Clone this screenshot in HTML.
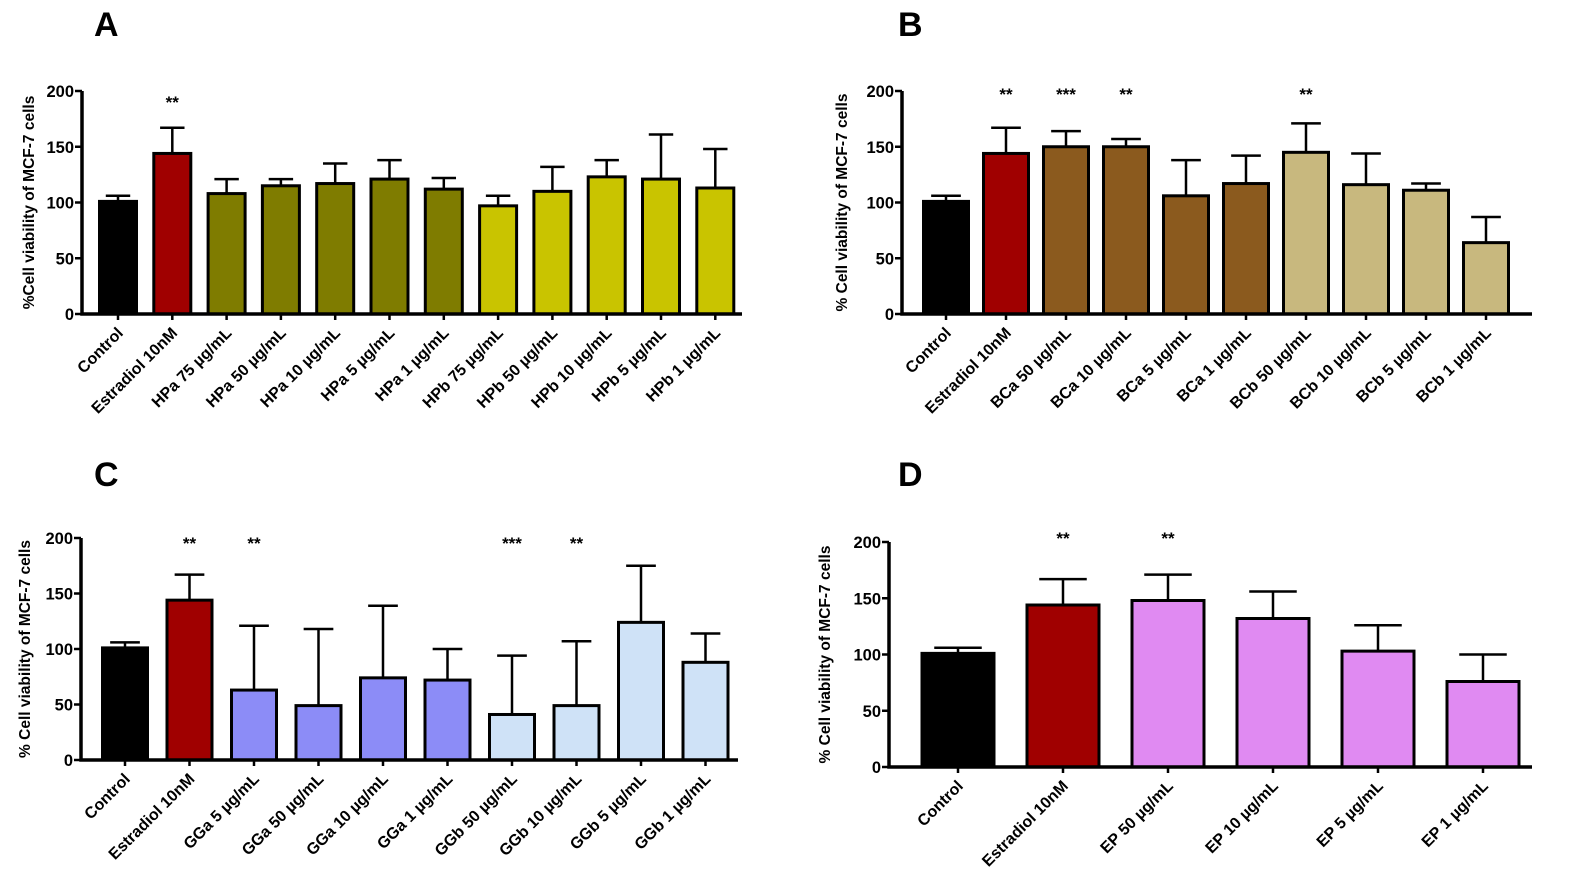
<!DOCTYPE html>
<html><head><meta charset="utf-8"><style>
body{margin:0;background:#fff;}
svg{display:block;font-family:"Liberation Sans",Arial,sans-serif;font-weight:bold;}
</style></head><body>
<svg id="c" width="1584" height="894"></svg>
<script>
const catsA=["Control","Estradiol 10nM","HPa 75 µg/mL","HPa 50 µg/mL","HPa 10 µg/mL","HPa 5 µg/mL","HPa 1 µg/mL","HPb 75 µg/mL","HPb 50 µg/mL","HPb 10 µg/mL","HPb 5 µg/mL","HPb 1 µg/mL"];
const valsA=[101,144,108,115,117,121,112,97,110,123,121,113];
const errA=[5,23,13,6,18,17,10,9,22,15,40,35];
const starsA=["","**","","","","","","","","","",""];
const catsB=["Control","Estradiol 10nM","BCa 50 µg/mL","BCa 10 µg/mL","BCa 5 µg/mL","BCa 1 µg/mL","BCb 50 µg/mL","BCb 10 µg/mL","BCb 5 µg/mL","BCb 1 µg/mL"];
const valsB=[101,144,150,150,106,117,145,116,111,64];
const errB=[5,23,14,7,32,25,26,28,6,23];
const starsB=["","**","***","**","","","**","","",""];
const catsC=["Control","Estradiol 10nM","GGa 5 µg/mL","GGa 50 µg/mL","GGa 10 µg/mL","GGa 1 µg/mL","GGb 50 µg/mL","GGb 10 µg/mL","GGb 5 µg/mL","GGb 1 µg/mL"];
const valsC=[101,144,63,49,74,72,41,49,124,88];
const errC=[5,23,58,69,65,28,53,58,51,26];
const starsC=["","**","**","","","","***","**","",""];
const catsD=["Control","Estradiol 10nM","EP 50 µg/mL","EP 10 µg/mL","EP 5 µg/mL","EP 1 µg/mL"];
const valsD=[101,144,148,132,103,76];
const errD=[5,23,23,24,23,24];
const starsD=["","**","**","","",""];
const yTicks=[0,50,100,150,200];

const svg=document.getElementById('c');
const NS="http://www.w3.org/2000/svg";
function mk(tag,attrs,parent){const e=document.createElementNS(NS,tag);for(const k in attrs)e.setAttribute(k,attrs[k]);(parent||svg).appendChild(e);return e;}

function panel(o){
  const g=mk('g',{});
  
  
  const y=v=>o.y0-(v/200)*(o.y0-o.y200);
  const x=i=>o.c0+i*o.step;
  const lt=mk('text',{x:o.lx,y:o.ly,'font-size':34,fill:'#000'},g);lt.textContent=o.letter;
  
  
  o.vals.forEach((v,i)=>{
    const cx=x(i),top=y(v+o.err[i]);
    const el=mk('line',{x1:cx,x2:cx,y1:y(v),y2:top,stroke:'#000','stroke-width':2.5},g);
    
    
    const cap=mk('line',{x1:cx-o.bw*0.33,x2:cx+o.bw*0.33,y1:top,y2:top,stroke:'#000','stroke-width':2.5},g);
    
    
    const r=mk('rect',{x:cx-o.bw/2,y:y(v),width:o.bw,height:o.y0-y(v),fill:o.colors[i],stroke:'#000','stroke-width':3},g);
    
    
    if(o.stars[i]){const s=mk('text',{x:cx,y:o.starY,'text-anchor':'middle','font-size':17},g);s.textContent=o.stars[i];
      
      }
    const tk=mk('line',{x1:cx,x2:cx,y1:o.y0,y2:o.y0+6,stroke:'#000','stroke-width':2.5},g);
    
    
    const lb=mk('text',{x:cx+6,y:o.y0+20,'text-anchor':'end','font-size':16,transform:`rotate(-45 ${cx+6} ${o.y0+20})`},g);
    lb.textContent=o.cats[i];
    
    
  });
  const ax=mk('path',{d:`M${o.ax} ${o.y200}V${o.y0}H${o.axEnd}`,fill:'none',stroke:'#000','stroke-width':3.5},g);
  
  
  yTicks.forEach(t=>{
    const tl=mk('line',{x1:o.ax-7,x2:o.ax,y1:y(t),y2:y(t),stroke:'#000','stroke-width':2.5},g);
    
    
    const tt=mk('text',{x:o.ax-8,y:y(t)+6,'text-anchor':'end','font-size':16.5},g);tt.textContent=t;
    
    
  });
  const yc=(o.y0+o.y200)/2;
  const yt=mk('text',{x:o.tx,y:yc,'text-anchor':'middle','font-size':15.5,transform:`rotate(-90 ${o.tx} ${yc})`},g);
  yt.textContent=o.title;
  
  
}
const K='#000000',R='#a00000';
panel({letter:'A',lx:94,ly:36,cats:catsA,vals:valsA,err:errA,stars:starsA,
  colors:[K,R,'#7f7c00','#7f7c00','#7f7c00','#7f7c00','#7f7c00','#c9c400','#c9c400','#c9c400','#c9c400','#c9c400'],
  y0:314,y200:91,ax:82,axEnd:742,c0:118,step:54.3,bw:37,starY:108,tx:34,title:'%Cell viability of MCF-7 cells'});
panel({letter:'B',lx:898,ly:36,cats:catsB,vals:valsB,err:errB,stars:starsB,
  colors:[K,R,'#8b5a1e','#8b5a1e','#8b5a1e','#8b5a1e','#c8b87e','#c8b87e','#c8b87e','#c8b87e'],
  y0:314,y200:91,ax:902,axEnd:1532,c0:946,step:60,bw:45,starY:100,tx:847,title:'% Cell viability of MCF-7 cells'});
panel({letter:'C',lx:94,ly:486,cats:catsC,vals:valsC,err:errC,stars:starsC,
  colors:[K,R,'#8c8cf7','#8c8cf7','#8c8cf7','#8c8cf7','#cfe2f7','#cfe2f7','#cfe2f7','#cfe2f7'],
  y0:760,y200:538,ax:81,axEnd:738,c0:125,step:64.5,bw:45,starY:549,tx:30,title:'% Cell viability of MCF-7 cells'});
panel({letter:'D',lx:898,ly:486,cats:catsD,vals:valsD,err:errD,stars:starsD,
  colors:[K,R,'#e08af2','#e08af2','#e08af2','#e08af2'],
  y0:767,y200:542,ax:889,axEnd:1532,c0:958,step:105,bw:72,starY:544,tx:830,title:'% Cell viability of MCF-7 cells'});
</script>
</body></html>
